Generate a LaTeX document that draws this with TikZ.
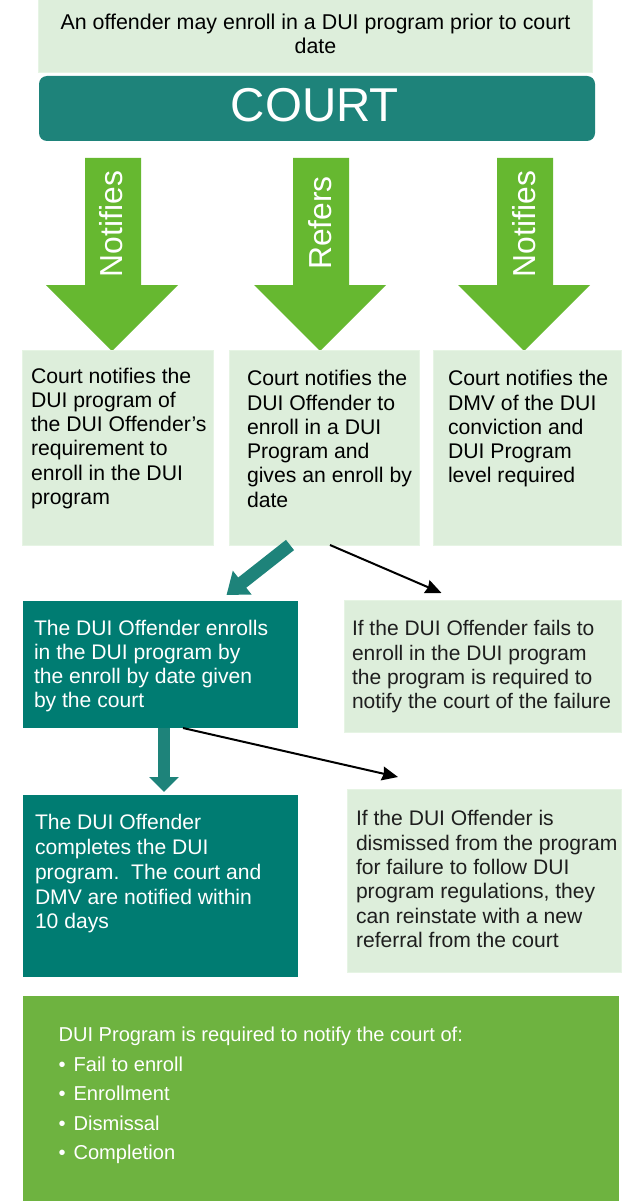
\documentclass[tikz,border=0pt]{standalone}
\usepackage{fontspec}
\setmainfont{Liberation Sans}
\usetikzlibrary{arrows.meta,calc}
\definecolor{lightbox}{RGB}{221,238,219}
\definecolor{lightedge}{RGB}{230,244,228}
\definecolor{courtteal}{RGB}{30,131,122}
\definecolor{boxteal}{RGB}{0,124,114}
\definecolor{arrowteal}{RGB}{30,131,122}
\definecolor{arrowgreen}{RGB}{102,184,48}
\definecolor{bottomgreen}{RGB}{110,179,64}
\definecolor{greytext}{RGB}{30,30,30}
\newcommand{\ftxt}[2]{\fontsize{#1}{#2}\selectfont}
\newcommand{\fcourt}{\fontsize{47.5}{47.5}\selectfont}
\newcommand{\farrow}{\fontsize{31.8}{31.8}\selectfont}
\newcommand{\fbot}{\fontsize{20.1}{29.5}\selectfont}
\begin{document}
\begin{tikzpicture}[x=1pt,y=-1pt,
  boxbase/.style={inner sep=0pt,outer sep=0pt,anchor=north west},
  lbox/.style={boxbase,fill=lightbox,draw=lightedge,line width=1pt},
  tbox/.style={boxbase,fill=boxteal},
  txt/.style={inner sep=0pt,outer sep=0pt,anchor=north west,align=left},
  bigarrow/.style={fill=arrowgreen},
  arrowlabel/.style={rotate=90,inner sep=0pt,text=white,font=\farrow},
  tealarrow/.style={draw=arrowteal},
  blackarrow/.style={draw=black,line width=2pt,-{Stealth[length=16pt,width=14pt,inset=1.5pt]}}
]
\useasboundingbox (0,0) rectangle (621,1201);
\fill[white] (0,0) rectangle (621,1201);

% top note and court
\node[lbox,minimum width=554pt,minimum height=73pt] (note) at (38,0) {};
\node[inner sep=0pt,anchor=north,align=center,font=\ftxt{21.4}{24}] (notetext) at (315.5,13.5)
  {An offender may enroll in a DUI program prior to court\\date};
\node[boxbase,fill=courtteal,rounded corners=8pt,minimum width=556pt,minimum height=65pt] (court) at (39,76) {};
\node[inner sep=0pt,anchor=base,text=white,font=\fcourt] (courttext) at (315,122) {COURT};

% green arrows
\fill[bigarrow] (85,158) -- (141,158) -- (141,285) -- (178,285) -- (112,351) -- (46,285) -- (85,285) -- cycle;
\fill[bigarrow] (293,158) -- (349,158) -- (349,285) -- (386,285) -- (320,351) -- (254,285) -- (293,285) -- cycle;
\fill[bigarrow] (497,158) -- (553,158) -- (553,285) -- (590,285) -- (524,351) -- (458,285) -- (497,285) -- cycle;
\node[arrowlabel] (lab1) at (111,224) {Notifies};
\node[arrowlabel] (lab2) at (320,223) {Refers};
\node[arrowlabel] (lab3) at (524,224) {Notifies};

% first row
\node[lbox,minimum width=191pt,minimum height=195pt] (A) at (22,350) {};
\node[lbox,minimum width=190pt,minimum height=195pt] (B) at (229,350) {};
\node[lbox,minimum width=188pt,minimum height=195pt] (C) at (433,350) {};
\node[txt,font=\ftxt{21.2}{24.3}] (At) at (31,367.7)
  {Court notifies the\\DUI program of\\the DUI Offender’s\\requirement to\\enroll in the DUI\\program};
\node[txt,font=\ftxt{21.2}{24.3}] (Bt) at (247,370.4)
  {Court notifies the\\DUI Offender to\\enroll in a DUI\\Program and\\gives an enroll by\\date};
\node[txt,font=\ftxt{21.2}{24.3}] (Ct) at (448,370.4)
  {Court notifies the\\DMV of the DUI\\conviction and\\DUI Program\\level required};

% second row
\node[tbox,minimum width=275pt,minimum height=127pt] (D) at (23,601) {};
\node[lbox,minimum width=277pt,minimum height=132pt] (E) at (344,600) {};
\node[txt,text=white,font=\ftxt{21.1}{24}] (Dt) at (34,620.7)
  {The DUI Offender enrolls\\in the DUI program by\\the enroll by date given\\by the court};
\node[txt,text=greytext,font=\ftxt{21}{24.3}] (Et) at (352,620.7)
  {If the DUI Offender fails to\\enroll in the DUI program\\the program is required to\\notify the court of the failure};

% third row
\node[tbox,minimum width=275pt,minimum height=182pt] (F) at (23,795) {};
\node[lbox,minimum width=274pt,minimum height=183pt] (G) at (347,789) {};
\node[txt,text=white,font=\ftxt{21.1}{24.7}] (Ft) at (35,814.7)
  {The DUI Offender\\completes the DUI\\program.\ \ The court and\\DMV are notified within\\10 days};
\node[txt,text=greytext,font=\ftxt{21.1}{24.4}] (Gt) at (356,810.4)
  {If the DUI Offender is\\dismissed from the program\\for failure to follow DUI\\program regulations, they\\can reinstate with a new\\referral from the court};

% bottom panel
\node[boxbase,fill=bottomgreen,minimum width=596pt,minimum height=205pt] (P) at (23,996) {};
\node[txt,text=white,font=\fbot] (Pt) at (58.5,1027.4)
  {DUI Program is required to notify the court of:\\•\hspace{0.4em}Fail to enroll\\•\hspace{0.4em}Enrollment\\•\hspace{0.4em}Dismissal\\•\hspace{0.4em}Completion};

% connectors
\draw[tealarrow,line width=13pt,-{Triangle[length=20pt,width=29pt]}]
  ([xshift=-34pt]B.south) -- ([xshift=66pt,yshift=6pt]D.north);
\draw[blackarrow] ([xshift=6pt]B.south) -- ([xshift=-41pt,yshift=7pt]E.north);
\draw[tealarrow,line width=12pt,-{Triangle[length=15pt,width=29pt]}]
  ([xshift=3.5pt]D.south) -- ([xshift=3.5pt,yshift=3pt]F.north);
\draw[blackarrow] ([xshift=22.5pt]D.south) -- ([xshift=-86pt,yshift=12pt]G.north);
\end{tikzpicture}
\end{document}
